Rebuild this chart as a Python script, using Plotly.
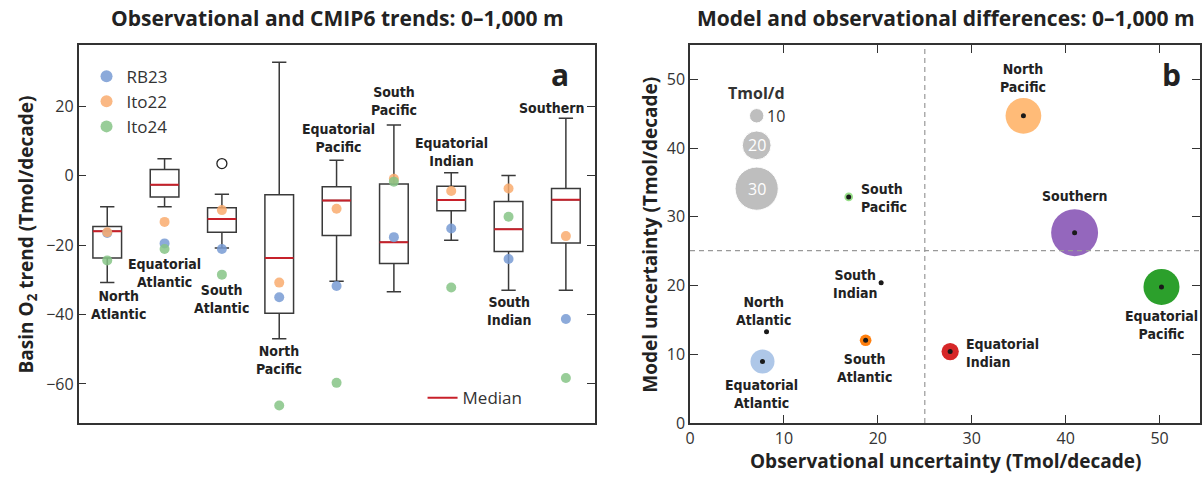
import plotly.graph_objects as go

# ---------------- data: panel a ----------------
regions = ["North Atlantic", "Equatorial Atlantic", "South Atlantic", "North Pacific",
           "Equatorial Pacific", "South Pacific", "Equatorial Indian", "South Indian", "Southern"]
upper_fence = [-8.9, 4.9, -5.3, 32.7, 4.5, 14.6, 0.9, 0.1, 16.6]
q3 = [-14.6, 1.8, -9.2, -5.5, -3.2, -2.4, -3.0, -7.4, -3.7]
median = [-16.0, -2.6, -12.5, -23.7, -7.1, -19.2, -7.0, -15.4, -6.9]
q1 = [-23.7, -6.1, -16.3, -39.6, -17.2, -25.3, -10.1, -21.8, -19.4]
lower_fence = [-30.8, -8.9, -20.8, -47.0, -30.4, -33.4, -18.6, -33.0, -33.0]
outlier_region = [2]
outlier_value = [3.5]
rb23 = [-16.5, -19.5, -21.1, -35.0, -31.8, -17.7, -15.2, -24.0, -41.3]
ito22 = [-16.3, -13.3, -9.9, -30.8, -9.5, -0.9, -4.4, -3.7, -17.4]
ito24 = [-24.4, -21.1, -28.5, -66.2, -59.7, -1.7, -32.2, -11.8, -58.3]

# ---------------- data: panel b ----------------
obs_unc = [8.15, 7.72, 18.7, 35.5, 50.2, 16.9, 27.7, 20.35, 40.95]
model_unc = [13.3, 8.97, 12.05, 44.7, 19.8, 32.9, 10.4, 20.4, 27.7]
flux_tmol_d = [2, 16.7, 8.1, 24.8, 25.0, 6.0, 12.0, 3.0, 32.6]
region_colors = ["#1f77b4", "#aec7e8", "#ff7f0e", "#ffbb78", "#2ca02c",
                 "#98df8a", "#d62728", "#8c3b3b", "#9467bd"]
size_legend = [10, 20, 30]
obs_threshold = 25.0
model_threshold = 25.1

PX_PER_UNIT = 1.44  # bubble diameter in px per Tmol/d

BOLD = "Open Sans"
NARROW = "Liberation Sans Narrow, DejaVu Sans Condensed, sans-serif"
REG = "Open Sans, sans-serif"
INK = "#333333"

xs = list(range(len(regions)))
fig = go.Figure()

# boxes
fig.add_trace(go.Box(
    x=xs, q1=q1, median=median, q3=q3, lowerfence=lower_fence, upperfence=upper_fence,
    width=0.5, whiskerwidth=0.5, fillcolor="white", line=dict(color="#3a3a3a", width=1.5),
    boxpoints=False, showlegend=False, xaxis="x", yaxis="y", hoverinfo="skip"))

# medians (red)
mx, my = [], []
for i, m in zip(xs, median):
    mx += [i - 0.25, i + 0.25, None]
    my += [m, m, None]
fig.add_trace(go.Scatter(x=mx, y=my, mode="lines", line=dict(color="#c8202a", width=2),
                         name="Median", legend="legend2", xaxis="x", yaxis="y"))

# outlier
fig.add_trace(go.Scatter(x=outlier_region, y=outlier_value, mode="markers",
                         marker=dict(size=10, color="white", line=dict(color="#222", width=1.3)),
                         showlegend=False, xaxis="x", yaxis="y"))

for name, vals, col in [("RB23", rb23, "rgba(120,155,212,0.85)"),
                        ("Ito22", ito22, "rgba(249,172,110,0.85)"),
                        ("Ito24", ito24, "rgba(134,196,134,0.85)")]:
    fig.add_trace(go.Scatter(x=xs, y=vals, mode="markers", name=name,
                             marker=dict(size=10, color=col), legend="legend",
                             xaxis="x", yaxis="y"))

# panel b bubbles
fig.add_trace(go.Scatter(x=obs_unc, y=model_unc, mode="markers",
                         marker=dict(size=[v * PX_PER_UNIT for v in flux_tmol_d], color=region_colors,
                                     line=dict(width=0), opacity=1),
                         showlegend=False, xaxis="x2", yaxis="y2"))
fig.add_trace(go.Scatter(x=obs_unc, y=model_unc, mode="markers",
                         marker=dict(size=5, color="#1a1a1a"),
                         showlegend=False, xaxis="x2", yaxis="y2"))

# size legend bubbles
leg_x = [7.1] * 3
leg_y = [44.7, 40.4, 34.1]
fig.add_trace(go.Scatter(x=leg_x, y=leg_y, mode="markers",
                         marker=dict(size=[v * PX_PER_UNIT for v in size_legend], color="#a3a3a3"),
                         showlegend=False, xaxis="x2", yaxis="y2"))

LABEL_FONT = dict(family=NARROW, size=14, color="#222", weight="bold")

ann = []
# panel a region labels
a_labels = {
    "North Atlantic": (0.2, -37.3), "Equatorial Atlantic": (1.0, -27.9),
    "South Atlantic": (2.0, -35.6), "North Pacific": (3.0, -53.2),
    "Equatorial Pacific": (4.04, 11.0), "South Pacific": (5.0, 21.6),
    "Equatorial Indian": (6.0, 6.8), "South Indian": (7.0, -38.9), "Southern": (7.75, 19.5)}
for r in regions:
    x, y = a_labels[r]
    txt = r if r == "Southern" else r.replace(" ", "<br>")
    ann.append(dict(x=x, y=y, xref="x", yref="y", text=txt, showarrow=False,
                    xanchor="center", yanchor="middle",
                    font=LABEL_FONT, align="center"))

# panel b labels
b_labels = {
    "North Atlantic": (7.86, 16.3, "center"), "Equatorial Atlantic": (7.59, 4.3, "center"),
    "South Atlantic": (18.6, 8.0, "center"), "South Indian": (17.6, 20.3, "center"),
    "South Pacific": (18.0, 32.7, "left"), "North Pacific": (35.5, 50.2, "center"),
    "Southern": (40.9, 33.0, "center"), "Equatorial Pacific": (50.2, 14.3, "center"),
    "Equatorial Indian": (29.2, 10.2, "left")}
for r in regions:
    x, y, al = b_labels[r]
    txt = r if r == "Southern" else r.replace(" ", "<br>")
    ann.append(dict(x=x, y=y, xref="x2", yref="y2", text=txt, showarrow=False,
                    xanchor=al, yanchor="middle", align=al, font=LABEL_FONT))

# size legend texts
ann.append(dict(x=leg_x[0], y=48.0, xref="x2", yref="y2", text="<b>Tmol/d</b>", showarrow=False,
                xanchor="center", yanchor="middle",
                font=dict(family=BOLD, size=16, color="#333")))
ann.append(dict(x=leg_x[0] + 0.9, y=leg_y[0], xref="x2", yref="y2", text=str(size_legend[0]),
                showarrow=False, xanchor="left", yanchor="middle",
                font=dict(family=REG, size=16, color="#333")))
for lx, ly, v in zip(leg_x[1:], leg_y[1:], size_legend[1:]):
    ann.append(dict(x=lx, y=ly, xref="x2", yref="y2", text=str(v), showarrow=False,
                    xanchor="center", yanchor="middle",
                    font=dict(family=REG, size=16, color="white")))

TITLE_FONT = dict(family=BOLD, size=21, color="#222")
AXT_FONT = dict(family=BOLD, size=19, color="#222")
# titles & axis titles
for x, y, t, ang, fnt in [
    (334, 18, "<b>Observational and CMIP6 trends: 0–1,000 m</b>", 0, TITLE_FONT),
    (947, 18, "<b>Model and observational differences: 0–1,000 m</b>", 0, TITLE_FONT),
    (22, 240, "<b>Basin O<sub>2</sub> trend (Tmol/decade)</b>", -90, AXT_FONT),
    (648, 240, "<b>Model uncertainty (Tmol/decade)</b>", -90, AXT_FONT),
    (947, 472, "<b>Observational uncertainty (Tmol/decade)</b>", 0, AXT_FONT),
    (558, 76, "<b>a</b>", 0, dict(family=BOLD, size=30, color="#222")),
    (1173, 76, "<b>b</b>", 0, dict(family=BOLD, size=30, color="#222")),
]:
    ann.append(dict(x=x / 1202, y=1 - y / 482, xref="paper", yref="paper", showarrow=False,
                    xanchor="center", yanchor="middle", textangle=ang, text=t, font=fnt))

shapes = [
    dict(type="line", xref="x2", yref="y2 domain", x0=obs_threshold, x1=obs_threshold, y0=0, y1=1,
         line=dict(color="#999", width=1.2, dash="5px,4px")),
    dict(type="line", xref="x2 domain", yref="y2", x0=0, x1=1, y0=model_threshold, y1=model_threshold,
         line=dict(color="#999", width=1.2, dash="5px,4px")),
]

ydom = [1 - 433 / 482, 1 - 46 / 482]
axis_common = dict(showline=True, linecolor=INK, linewidth=1.5, showgrid=False, zeroline=False,
                   ticks="inside", ticklen=8, tickwidth=1.3, tickcolor=INK,
                   tickfont=dict(family=REG, size=16, color=INK))

fig.update_layout(
    width=1202, height=482, margin=dict(l=0, r=0, t=0, b=0),
    paper_bgcolor="white", plot_bgcolor="white",
    xaxis=dict(domain=[74 / 1202, 593 / 1202], range=[-0.5, 8.5], showline=True, linecolor=INK,
               linewidth=1.5, mirror=True, showticklabels=False, ticks="", showgrid=False,
               zeroline=False, anchor="y"),
    yaxis=dict(domain=ydom, range=[-71.3, 37.7], tickvals=[-60, -40, -20, 0, 20],
               mirror="ticks", anchor="x", **axis_common),
    xaxis2=dict(domain=[689 / 1202, 1.0], range=[0, 54.3], tickvals=[0, 10, 20, 30, 40, 50],
                mirror="ticks", anchor="y2", **axis_common),
    yaxis2=dict(domain=ydom, range=[0, 55], tickvals=[0, 10, 20, 30, 40, 50],
                mirror="ticks", anchor="x2", **axis_common),
    legend=dict(x=82 / 1202, y=1 - 60 / 482, xanchor="left", yanchor="top",
                font=dict(family=REG, size=17, color="#333"), bgcolor="rgba(0,0,0,0)",
                tracegroupgap=0, itemsizing="constant"),
    legend2=dict(x=420 / 1202, y=1 - 389 / 482, xanchor="left", yanchor="top",
                 font=dict(family=REG, size=17, color="#333"), bgcolor="rgba(0,0,0,0)"),
    annotations=ann, shapes=shapes,
)

fig.write_html("out.html")
